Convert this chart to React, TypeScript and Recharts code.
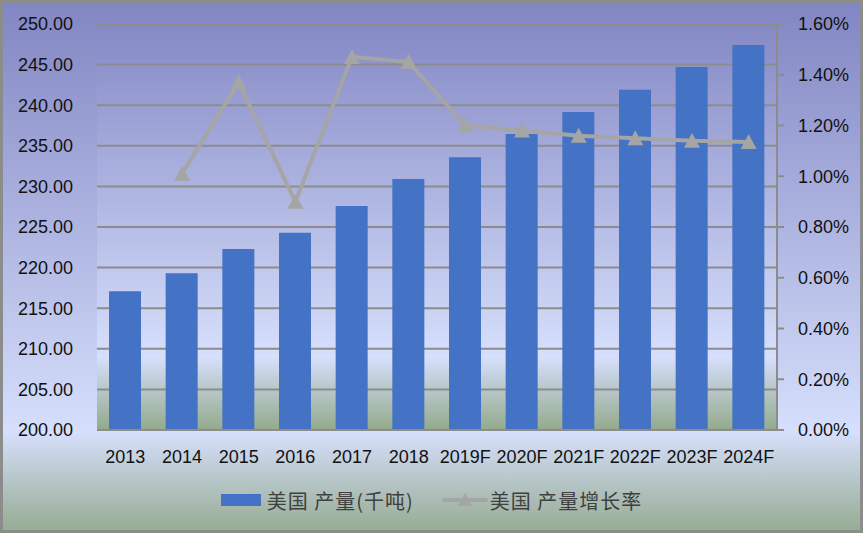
import {
  ComposedChart,
  Bar,
  Line,
  XAxis,
  YAxis,
  CartesianGrid,
  Legend,
} from "recharts";

const years = ["2013", "2014", "2015", "2016", "2017", "2018", "2019F", "2020F", "2021F", "2022F", "2023F", "2024F"];
const output = [217.1, 219.3, 222.3, 224.3, 227.6, 230.9, 233.6, 236.45, 239.15, 241.9, 244.7, 247.4];
const growth = [null, 1.01, 1.37, 0.9, 1.47, 1.45, 1.2, 1.18, 1.16, 1.15, 1.14, 1.135];
const leftTicks = [200, 205, 210, 215, 220, 225, 230, 235, 240, 245, 250];
const rightTicks = [0, 0.2, 0.4, 0.6, 0.8, 1.0, 1.2, 1.4, 1.6];

const barName = "美国 产量(千吨)";
const lineName = "美国 产量增长率";

const data = years.map((y, i) => ({ year: y, output: output[i], growth: growth[i] }));

const GRID = "#8c8c8c";
const BAR = "#4472c4";
const LINE = "#a5a5a5";
const numFont = "'Liberation Sans', Arial, sans-serif";
const cjkFont = "'Noto Sans CJK SC', sans-serif";

function Triangle(props: any) {
  const { cx, cy, index } = props;
  if (cx == null || cy == null || props.value == null) return <g key={`t-${index}`} />;
  return (
    <polygon
      key={`t-${index}`}
      points={`${cx},${cy - 8} ${cx + 8},${cy + 7} ${cx - 8},${cy + 7}`}
      fill={LINE}
    />
  );
}

function LegendContent() {
  return (
    <div
      style={{
        display: "flex",
        justifyContent: "center",
        alignItems: "center",
        fontFamily: cjkFont,
        fontSize: 20,
        color: "#404040",
        height: 46,
        boxSizing: "border-box",
        paddingTop: 8,
      }}
    >
      <span style={{ display: "inline-block", width: 40, height: 12, background: BAR, marginRight: 6 }} />
      <span style={{ marginRight: 28, letterSpacing: 1 }}>{barName}</span>
      <svg width={46} height={16} style={{ marginRight: 2 }}>
        <line x1={2} y1={8} x2={44} y2={8} stroke={LINE} strokeWidth={4} strokeLinecap="round" />
        <polygon points="23,1 30,14 16,14" fill={LINE} />
      </svg>
      <span style={{ letterSpacing: 1 }}>{lineName}</span>
    </div>
  );
}

export default function App() {
  return (
    <div
      style={{
        position: "absolute",
        left: 0,
        top: 0,
        width: 863,
        height: 533,
        background: "linear-gradient(180deg, #8185c2 0%, #d6dffc 81%, #95ab90 100%)",
      }}
    >
      <ComposedChart
        width={863}
        height={533}
        data={data}
        margin={{ top: 24, right: 0, left: 0, bottom: 14 }}
        barCategoryGap="43%"
      >
        <defs>
          <linearGradient id="plotGrad" x1="0" y1="0" x2="0" y2="1">
            <stop offset="0%" stopColor="#8589c5" />
            <stop offset="82%" stopColor="#d6dffc" />
            <stop offset="100%" stopColor="#93aa8c" />
          </linearGradient>
        </defs>
        <CartesianGrid
          vertical={false}
          stroke={GRID}
          strokeWidth={2}
          fill="url(#plotGrad)"
          fillOpacity={1}
          yAxisId="left"
        />
        <XAxis
          dataKey="year"
          height={43}
          axisLine={{ stroke: GRID, strokeWidth: 2 }}
          tickLine={false}
          tickSize={0}
          tickMargin={20}
          interval={0}
          tick={{ fontSize: 18, fill: "#111", fontFamily: numFont }}
        />
        <YAxis
          yAxisId="left"
          orientation="left"
          width={97}
          domain={[200, 250]}
          ticks={leftTicks}
          tickFormatter={(v: number) => v.toFixed(2)}
          axisLine={false}
          tickLine={false}
          tickSize={0}
          tickMargin={24}
          tick={{ fontSize: 18, fill: "#111", fontFamily: numFont }}
        />
        <YAxis
          yAxisId="right"
          orientation="right"
          width={86}
          domain={[0, 1.6]}
          ticks={rightTicks}
          tickFormatter={(v: number) => v.toFixed(2) + "%"}
          axisLine={{ stroke: GRID, strokeWidth: 2 }}
          tickLine={{ stroke: GRID, strokeWidth: 2 }}
          tickSize={7}
          tickMargin={14}
          tick={{ fontSize: 18, fill: "#111", fontFamily: numFont }}
        />
        <Legend verticalAlign="bottom" height={46} content={<LegendContent />} />
        <Bar
          yAxisId="left"
          dataKey="output"
          name={barName}
          fill={BAR}
          barSize={32}
          isAnimationActive={false}
        />
        <Line
          yAxisId="right"
          dataKey="growth"
          name={lineName}
          stroke={LINE}
          strokeWidth={4}
          dot={<Triangle />}
          activeDot={false}
          isAnimationActive={false}
        />
      </ComposedChart>
      <div
        style={{
          position: "absolute",
          left: 0,
          top: 0,
          width: 863,
          height: 533,
          boxSizing: "border-box",
          border: "3px solid #8c8c8c",
          pointerEvents: "none",
        }}
      />
    </div>
  );
}
